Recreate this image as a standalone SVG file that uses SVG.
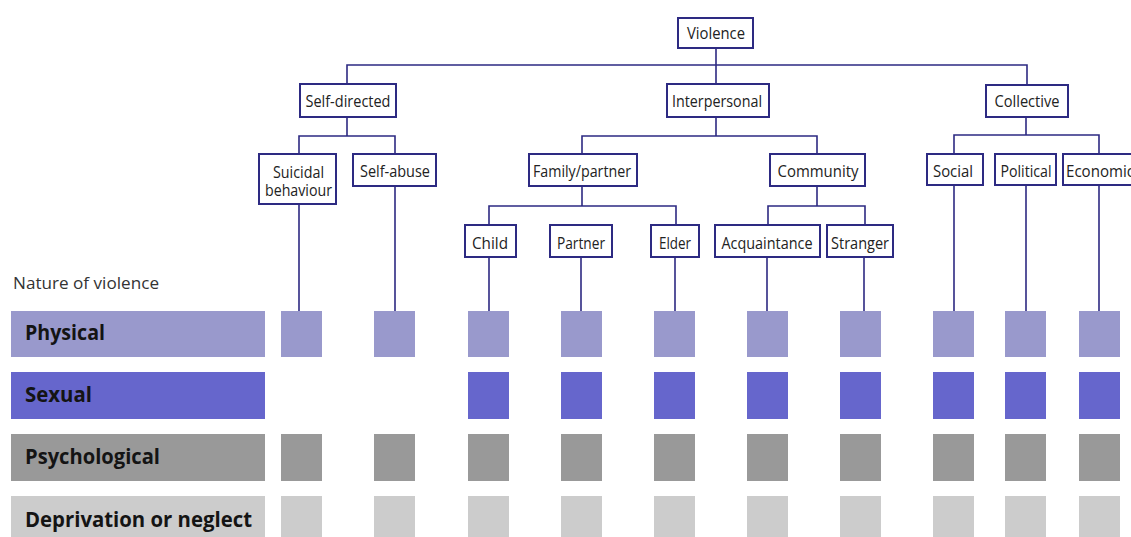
<svg xmlns="http://www.w3.org/2000/svg" width="1131" height="537" viewBox="0 0 1131 537">
<style>
.box{fill:#fff;stroke:#2d2a82;stroke-width:2}
.lbl{font-family:"Open Sans","Noto Sans",sans-serif;font-size:16px;fill:#222;text-anchor:middle}
.conn{fill:none;stroke:#2d2a82;stroke-width:1.6}
.cat{font-family:"Open Sans","Noto Sans",sans-serif;font-size:21px;font-weight:bold;fill:#141414}
.phy{fill:#9999cc}.sex{fill:#6666cc}.psy{fill:#999999}.dep{fill:#cccccc}
</style>
<rect width="1131" height="537" fill="#fff"/>
<g id="connectors" class="conn">
<path d="M716 49V65M347 83V65H1027V84M716 65V83"/>
<path d="M347 118V136M299 153V136H395V153"/>
<path d="M716 118V136M582 153V136H817V153"/>
<path d="M1026 118V135M954 153V135H1099V153"/>
<path d="M582 187V206M489 224V206H676V224"/>
<path d="M817 187V206M768 224V206H865V224"/>
<path d="M299 205V311M395 187V311M489 258V311M581 258V311M675 258V311M767 258V311M864 258V311M954 186V311M1026 186V311M1099 186V311"/>
</g>
<g id="violence"><rect class="box" x="678" y="18" width="75" height="30"/><text class="lbl" x="716" y="38.5" textLength="58" lengthAdjust="spacingAndGlyphs">Violence</text></g>
<g id="self-directed"><rect class="box" x="300" y="84" width="96" height="33"/><text class="lbl" x="348" y="106.5" textLength="85" lengthAdjust="spacingAndGlyphs">Self-directed</text></g>
<g id="interpersonal"><rect class="box" x="667" y="84" width="102" height="33"/><text class="lbl" x="717" y="106.5" textLength="90" lengthAdjust="spacingAndGlyphs">Interpersonal</text></g>
<g id="collective"><rect class="box" x="986" y="85" width="82" height="32"/><text class="lbl" x="1027" y="106.5" textLength="65" lengthAdjust="spacingAndGlyphs">Collective</text></g>
<g id="suicidal"><rect class="box" x="259" y="154" width="77" height="50"/><text class="lbl" x="298.5" y="177.5" textLength="51" lengthAdjust="spacingAndGlyphs">Suicidal</text><text class="lbl" x="298.5" y="195.5" textLength="67" lengthAdjust="spacingAndGlyphs">behaviour</text></g>
<g id="self-abuse"><rect class="box" x="353" y="154" width="83" height="32"/><text class="lbl" x="395" y="176.5" textLength="70" lengthAdjust="spacingAndGlyphs">Self-abuse</text></g>
<g id="family"><rect class="box" x="529" y="154" width="108" height="32"/><text class="lbl" x="582" y="176.5" textLength="98" lengthAdjust="spacingAndGlyphs">Family/partner</text></g>
<g id="community"><rect class="box" x="770" y="154" width="95" height="32"/><text class="lbl" x="818" y="176.5" textLength="81" lengthAdjust="spacingAndGlyphs">Community</text></g>
<g id="social"><rect class="box" x="927" y="154" width="56" height="31"/><text class="lbl" x="953" y="176.5" textLength="40" lengthAdjust="spacingAndGlyphs">Social</text></g>
<g id="political"><rect class="box" x="995" y="154" width="61" height="31"/><text class="lbl" x="1026" y="176.5" textLength="51" lengthAdjust="spacingAndGlyphs">Political</text></g>
<g id="economic"><rect class="box" x="1063" y="154" width="90" height="31"/><text class="lbl" x="1066" y="176.5" style="text-anchor:start" textLength="68" lengthAdjust="spacingAndGlyphs">Economic</text></g>
<g id="child"><rect class="box" x="465" y="225" width="51" height="32"/><text class="lbl" x="490" y="248.5" textLength="36" lengthAdjust="spacingAndGlyphs">Child</text></g>
<g id="partner"><rect class="box" x="550" y="225" width="62" height="32"/><text class="lbl" x="581" y="248.5" textLength="48" lengthAdjust="spacingAndGlyphs">Partner</text></g>
<g id="elder"><rect class="box" x="651" y="225" width="48" height="32"/><text class="lbl" x="675" y="248.5" textLength="32" lengthAdjust="spacingAndGlyphs">Elder</text></g>
<g id="acquaintance"><rect class="box" x="715" y="225" width="105" height="32"/><text class="lbl" x="767" y="248.5" textLength="91" lengthAdjust="spacingAndGlyphs">Acquaintance</text></g>
<g id="stranger"><rect class="box" x="827" y="225" width="66" height="32"/><text class="lbl" x="860" y="248.5" textLength="58" lengthAdjust="spacingAndGlyphs">Stranger</text></g>
<text x="13" y="289" font-family="Open Sans, Noto Sans, sans-serif" font-size="17" fill="#333" textLength="146" lengthAdjust="spacingAndGlyphs">Nature of violence</text>
<g id="physical">
<rect class="phy" x="11" y="311" width="254" height="46"/>
<text class="cat" x="25" y="340" textLength="80" lengthAdjust="spacingAndGlyphs">Physical</text>
<rect class="phy" x="281" y="311" width="41" height="46"/><rect class="phy" x="374" y="311" width="41" height="46"/><rect class="phy" x="468" y="311" width="41" height="46"/><rect class="phy" x="561" y="311" width="41" height="46"/><rect class="phy" x="654" y="311" width="41" height="46"/><rect class="phy" x="747" y="311" width="41" height="46"/><rect class="phy" x="840" y="311" width="41" height="46"/><rect class="phy" x="933" y="311" width="41" height="46"/><rect class="phy" x="1005" y="311" width="41" height="46"/><rect class="phy" x="1079" y="311" width="41" height="46"/>
</g>
<g id="sexual">
<rect class="sex" x="11" y="372" width="254" height="47"/>
<text class="cat" x="25" y="402" textLength="67" lengthAdjust="spacingAndGlyphs">Sexual</text>
<rect class="sex" x="468" y="372" width="41" height="47"/><rect class="sex" x="561" y="372" width="41" height="47"/><rect class="sex" x="654" y="372" width="41" height="47"/><rect class="sex" x="747" y="372" width="41" height="47"/><rect class="sex" x="840" y="372" width="41" height="47"/><rect class="sex" x="933" y="372" width="41" height="47"/><rect class="sex" x="1005" y="372" width="41" height="47"/><rect class="sex" x="1079" y="372" width="41" height="47"/>
</g>
<g id="psychological">
<rect class="psy" x="11" y="434" width="254" height="47"/>
<text class="cat" x="25" y="464" textLength="135" lengthAdjust="spacingAndGlyphs">Psychological</text>
<rect class="psy" x="281" y="434" width="41" height="47"/><rect class="psy" x="374" y="434" width="41" height="47"/><rect class="psy" x="468" y="434" width="41" height="47"/><rect class="psy" x="561" y="434" width="41" height="47"/><rect class="psy" x="654" y="434" width="41" height="47"/><rect class="psy" x="747" y="434" width="41" height="47"/><rect class="psy" x="840" y="434" width="41" height="47"/><rect class="psy" x="933" y="434" width="41" height="47"/><rect class="psy" x="1005" y="434" width="41" height="47"/><rect class="psy" x="1079" y="434" width="41" height="47"/>
</g>
<g id="deprivation">
<rect class="dep" x="11" y="496" width="254" height="47"/>
<text class="cat" x="25" y="527" textLength="227" lengthAdjust="spacingAndGlyphs">Deprivation or neglect</text>
<rect class="dep" x="281" y="496" width="41" height="47"/><rect class="dep" x="374" y="496" width="41" height="47"/><rect class="dep" x="468" y="496" width="41" height="47"/><rect class="dep" x="561" y="496" width="41" height="47"/><rect class="dep" x="654" y="496" width="41" height="47"/><rect class="dep" x="747" y="496" width="41" height="47"/><rect class="dep" x="840" y="496" width="41" height="47"/><rect class="dep" x="933" y="496" width="41" height="47"/><rect class="dep" x="1005" y="496" width="41" height="47"/><rect class="dep" x="1079" y="496" width="41" height="47"/>
</g>
</svg>
